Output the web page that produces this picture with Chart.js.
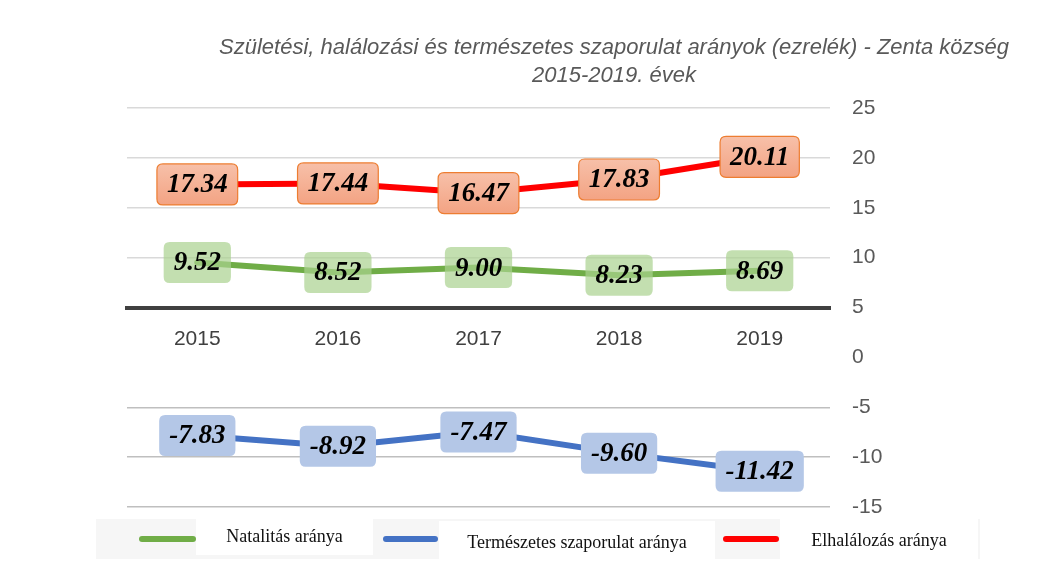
<!DOCTYPE html>
<html>
<head>
<meta charset="utf-8">
<script src="https://cdn.jsdelivr.net/npm/chart.js@4/dist/chart.umd.min.js"></script>
<style>
  body { margin: 0; background: #fff; }
  #wrap { width: 1055px; height: 571px; position: relative; }
</style>
</head>
<body>
<div id="wrap"><canvas id="c"></canvas></div>
<script>
const years = ['2015', '2016', '2017', '2018', '2019']
const natalitas = [9.52, 8.52, 9.00, 8.23, 8.69]
const termeszetes = [-7.83, -8.92, -7.47, -9.60, -11.42]
const elhalalozas = [17.34, 17.44, 16.47, 17.83, 20.11]
const seriesNames = ['Natalitás aránya', 'Természetes szaporulat aránya', 'Elhalálozás aránya']
const titleLines = ['Születési, halálozási és természetes szaporulat arányok (ezrelék) - Zenta község', '2015-2019. évek']

const sans = '"Liberation Sans", Arial, sans-serif'

// look of the value boxes, one per dataset
const boxStyles = [
  { fill: 'rgba(169, 209, 142, 0.7)', border: null },
  { fill: '#b4c7e7', border: null },
  { fill: ['#f7c0a9', '#f3a383'], border: '#ed7d31' },
]

function roundRect(ctx, x, y, w, h, r) {
  ctx.beginPath()
  ctx.moveTo(x + r, y)
  ctx.lineTo(x + w - r, y)
  ctx.quadraticCurveTo(x + w, y, x + w, y + r)
  ctx.lineTo(x + w, y + h - r)
  ctx.quadraticCurveTo(x + w, y + h, x + w - r, y + h)
  ctx.lineTo(x + r, y + h)
  ctx.quadraticCurveTo(x, y + h, x, y + h - r)
  ctx.lineTo(x, y + r)
  ctx.quadraticCurveTo(x, y, x + r, y)
  ctx.closePath()
}

const valueBoxes = {
  id: 'valueBoxes',
  afterDatasetsDraw(chart) {
    const ctx = chart.ctx
    ctx.save()
    ctx.font = 'italic bold 27px "Liberation Serif", serif'
    ctx.textAlign = 'center'
    ctx.textBaseline = 'middle'
    chart.data.datasets.forEach((ds, di) => {
      const st = boxStyles[di]
      chart.getDatasetMeta(di).data.forEach((pt, i) => {
        const txt = ds.data[i].toFixed(2)
        const w = ctx.measureText(txt).width + 20
        const h = 41
        const x = pt.x - w / 2, y = pt.y - h / 2
        roundRect(ctx, x, y, w, h, 6)
        if (Array.isArray(st.fill)) {
          const g = ctx.createLinearGradient(0, y, 0, y + h)
          g.addColorStop(0, st.fill[0])
          g.addColorStop(1, st.fill[1])
          ctx.fillStyle = g
        } else {
          ctx.fillStyle = st.fill
        }
        ctx.fill()
        if (st.border) {
          ctx.strokeStyle = st.border
          ctx.lineWidth = 1.2
          ctx.stroke()
        }
        ctx.fillStyle = '#000'
        ctx.fillText(txt, pt.x, pt.y + 1)
      })
    })
    ctx.restore()
  }
}

const titleAndLegend = {
  id: 'titleAndLegend',
  afterDraw(chart) {
    const ctx = chart.ctx
    ctx.save()
    // title
    ctx.fillStyle = '#595959'
    ctx.font = 'italic 22px ' + sans
    ctx.textAlign = 'center'
    ctx.textBaseline = 'middle'
    ctx.fillText(titleLines[0], 614, 48)
    ctx.fillText(titleLines[1], 614, 76)

    // legend band
    ctx.fillStyle = '#f6f6f6'
    ctx.fillRect(96, 519, 884, 40)
    const items = [
      { line: [139, 196, 539], box: [196, 519, 177, 36], ty: 537 },
      { line: [383, 438, 539], box: [439, 521, 276, 38], ty: 543 },
      { line: [723, 779, 539], box: [780, 519, 198, 40], ty: 541 },
    ]
    ctx.font = '18px "Liberation Serif", serif'
    items.forEach((it, i) => {
      const ds = chart.data.datasets[i]
      ctx.fillStyle = '#fff'
      ctx.fillRect(it.box[0], it.box[1], it.box[2], it.box[3])
      ctx.strokeStyle = ds.borderColor
      ctx.lineWidth = 6
      ctx.lineCap = 'round'
      ctx.beginPath()
      ctx.moveTo(it.line[0] + 3, it.line[2])
      ctx.lineTo(it.line[1] - 3, it.line[2])
      ctx.stroke()
      ctx.fillStyle = '#111'
      ctx.fillText(ds.label, it.box[0] + it.box[2] / 2, it.ty)
    })
    ctx.restore()
  }
}

new Chart(document.getElementById('c'), {
  type: 'line',
  data: {
    labels: years,
    datasets: [
      { label: seriesNames[0], data: natalitas, borderColor: '#70ad47' },
      { label: seriesNames[1], data: termeszetes, borderColor: '#4472c4' },
      { label: seriesNames[2], data: elhalalozas, borderColor: '#ff0000' },
    ]
  },
  options: {
    responsive: true,
    maintainAspectRatio: false,
    animation: false,
    layout: { padding: { left: 127, top: 108, bottom: 64, right: 155 } },
    elements: {
      line: { borderWidth: 6, tension: 0, borderCapStyle: 'round' },
      point: { radius: 0 }
    },
    plugins: {
      legend: { display: false },
      title: { display: false },
      tooltip: { enabled: false }
    },
    scales: {
      x: {
        position: { y: 5 },
        offset: true,
        grid: { display: true, color: 'rgba(0,0,0,0)', drawTicks: false },
        border: { display: true, color: '#404040', width: 4 },
        ticks: { padding: 19, color: '#404040', font: { family: sans, size: 21 } }
      },
      y: {
        position: 'right',
        min: -15,
        max: 25,
        afterFit: (s) => { s.width = 70 },
        ticks: { stepSize: 5, padding: 22, color: '#595959', font: { family: sans, size: 21 } },
        border: { display: false },
        grid: {
          drawTicks: false,
          lineWidth: 1.5,
          color: (c) => {
            const v = c.tick ? c.tick.value : null
            if (v === 0 || v === 5) return 'rgba(0,0,0,0)'
            return v > 5 ? '#d9d9d9' : '#bfbfbf'
          }
        }
      }
    }
  },
  plugins: [valueBoxes, titleAndLegend]
})
</script>
</body>
</html>
